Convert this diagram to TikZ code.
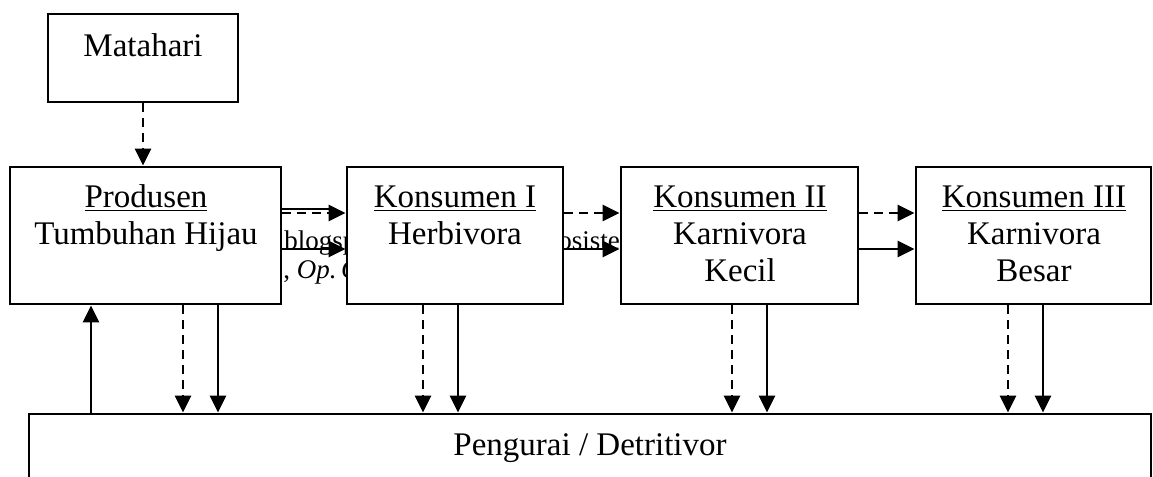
\documentclass[tikz,border=0pt]{standalone}
\usepackage{fontspec}
\setmainfont{Liberation Serif}
\usetikzlibrary{arrows.meta,fit}

\tikzset{
  box/.style={draw, line width=1.4pt, fill=white, inner sep=0pt},
  flow/.style={line width=1.3pt, -{Triangle[length=8.5pt,width=8pt]}},
  dflow/.style={flow, dash pattern=on 4.5pt off 3pt},
  lbl/.style={font=\fontsize{16.5}{19}\selectfont, inner sep=0pt, anchor=base},
  note/.style={font=\fontsize{13.5}{15}\selectfont, inner sep=0pt},
}

\begin{document}
\begin{tikzpicture}[x=0.5pt, y=-0.5pt]
  \useasboundingbox (0,0) rectangle (1153,477);
  \clip (0,0) rectangle (1153,477);

  % citation line lying behind the boxes
  \node[note, anchor=base west] (src1) at (284,249) {blogsp};
  \node[note, anchor=base west] (src2) at (558,249) {osistem};
  \node[note, anchor=base west] (src3) at (283,278) {, \textit{Op.}\,\textit{Cit.}};
  \coordinate (ulA) at (282,209);
  \coordinate (ulB) at (334,209);
  \draw[line width=1pt] (ulA) -- (ulB);

  % boxes
  \node[box, fit={(48,14) (238,102)}] (sun) {};
  \node[box, fit={(10,167) (281,304)}] (prod) {};
  \node[box, fit={(347,167) (563,304)}] (k1) {};
  \node[box, fit={(621,167) (858,304)}] (k2) {};
  \node[box, fit={(916,167) (1151,304)}] (k3) {};
  \node[box, fit={(29,414) (1151,540)}] (det) {};

  % labels
  \node[lbl] (sunT) at (143,56) {Matahari};
  \node[lbl] (prodA) at (146,207) {\underline{Produsen}};
  \node[lbl] (prodB) at (146,244) {Tumbuhan Hijau};
  \node[lbl] (k1A) at (455,207) {\underline{Konsumen I}};
  \node[lbl] (k1B) at (455,244) {Herbivora};
  \node[lbl] (k2A) at (740,207) {\underline{Konsumen II}};
  \node[lbl] (k2B) at (740,244) {Karnivora};
  \node[lbl] (k2C) at (740,281) {Kecil};
  \node[lbl] (k3A) at (1034,207) {\underline{Konsumen III}};
  \node[lbl] (k3B) at (1034,244) {Karnivora};
  \node[lbl] (k3C) at (1034,281) {Besar};
  \node[lbl] (detT) at (590,455) {Pengurai / Detritivor};

  % energy (dashed) and matter (solid) flows
  \draw[dflow] (sun.south -| 143,0) -- (prod.north -| 143,0);

  \draw[dflow] (prod.east |- 0,213) -- (k1.west |- 0,213);
  \draw[flow]  (prod.east |- 0,249) -- (k1.west |- 0,249);
  \draw[dflow] (k1.east |- 0,213) -- (k2.west |- 0,213);
  \draw[flow]  (k1.east |- 0,249) -- (k2.west |- 0,249);
  \draw[dflow] (k2.east |- 0,213) -- (k3.west |- 0,213);
  \draw[flow]  (k2.east |- 0,249) -- (k3.west |- 0,249);

  \draw[dflow] (prod.south -| 183,0) -- (det.north -| 183,0);
  \draw[flow]  (prod.south -| 218,0) -- (det.north -| 218,0);
  \draw[dflow] (k1.south -| 423,0) -- (det.north -| 423,0);
  \draw[flow]  (k1.south -| 458,0) -- (det.north -| 458,0);
  \draw[dflow] (k2.south -| 732,0) -- (det.north -| 732,0);
  \draw[flow]  (k2.south -| 767,0) -- (det.north -| 767,0);
  \draw[dflow] (k3.south -| 1008,0) -- (det.north -| 1008,0);
  \draw[flow]  (k3.south -| 1043,0) -- (det.north -| 1043,0);

  \draw[flow] (det.north -| 91,0) -- (prod.south -| 91,0);
\end{tikzpicture}
\end{document}
